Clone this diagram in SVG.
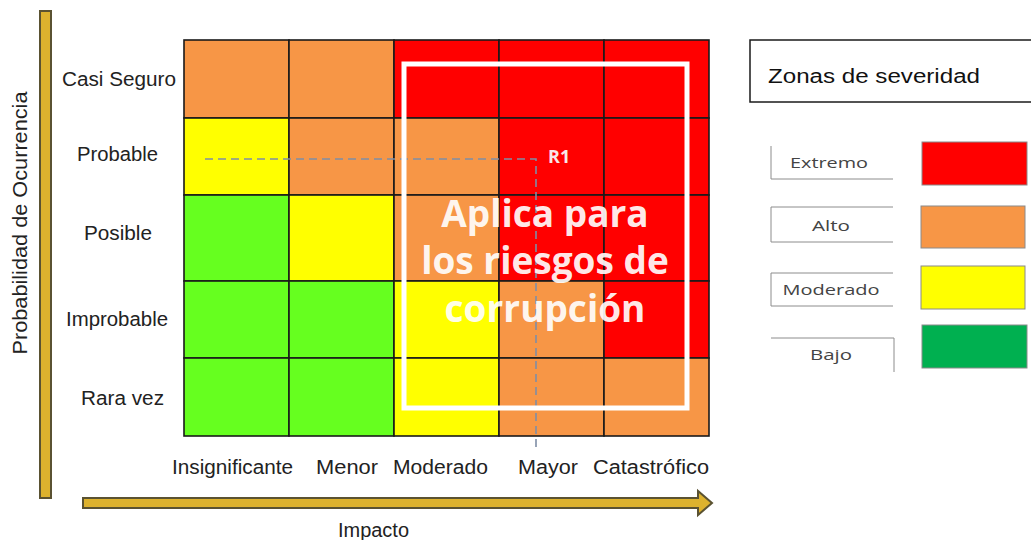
<svg xmlns="http://www.w3.org/2000/svg" width="1031" height="540" viewBox="0 0 1031 540">
  <style>
    .cell { stroke: #1a1a1a; stroke-width: 1.6; }
    .o { fill: #F79646; }
    .r { fill: #FF0000; }
    .y { fill: #FFFF00; }
    .g { fill: #66FF1F; }
    .lbl { font-family: "Liberation Sans", Arial, sans-serif; font-size: 19.5px; fill: #222; text-anchor: middle; }
    .axis { fill: #DDB22E; stroke: #5A5232; stroke-width: 2; }
    .big { font-family: "Open Sans", "Liberation Sans", sans-serif; font-weight: bold; font-size: 37px; fill: #ffffff; fill-opacity: 0.93; text-anchor: middle; }
    .leg { font-family: "Open Sans", "Liberation Sans", sans-serif; font-size: 15px; fill: #444; text-anchor: middle; }
    .legline { stroke: #8c8c8c; stroke-width: 1; fill: none; }
    .sw { stroke: #8a8a8a; stroke-width: 1; }
  </style>

  <rect width="1031" height="540" fill="#ffffff"/>

  <g id="matrix">
    <rect class="cell o" x="184" y="40" width="105" height="78"/>
    <rect class="cell o" x="289" y="40" width="105" height="78"/>
    <rect class="cell r" x="394" y="40" width="105" height="78"/>
    <rect class="cell r" x="499" y="40" width="105" height="78"/>
    <rect class="cell r" x="604" y="40" width="105" height="78"/>
    <rect class="cell y" x="184" y="118" width="105" height="77"/>
    <rect class="cell o" x="289" y="118" width="105" height="77"/>
    <rect class="cell o" x="394" y="118" width="105" height="77"/>
    <rect class="cell r" x="499" y="118" width="105" height="77"/>
    <rect class="cell r" x="604" y="118" width="105" height="77"/>
    <rect class="cell g" x="184" y="195" width="105" height="86"/>
    <rect class="cell y" x="289" y="195" width="105" height="86"/>
    <rect class="cell o" x="394" y="195" width="105" height="86"/>
    <rect class="cell r" x="499" y="195" width="105" height="86"/>
    <rect class="cell r" x="604" y="195" width="105" height="86"/>
    <rect class="cell g" x="184" y="281" width="105" height="77"/>
    <rect class="cell g" x="289" y="281" width="105" height="77"/>
    <rect class="cell y" x="394" y="281" width="105" height="77"/>
    <rect class="cell o" x="499" y="281" width="105" height="77"/>
    <rect class="cell r" x="604" y="281" width="105" height="77"/>
    <rect class="cell g" x="184" y="358" width="105" height="78"/>
    <rect class="cell g" x="289" y="358" width="105" height="78"/>
    <rect class="cell y" x="394" y="358" width="105" height="78"/>
    <rect class="cell o" x="499" y="358" width="105" height="78"/>
    <rect class="cell o" x="604" y="358" width="105" height="78"/>
  </g>

  <g id="connectors">
    <path d="M205,159 H536 V448" fill="none" stroke="#7f8ea6" stroke-width="1.6" stroke-dasharray="8 5"/>
  </g>

  <g id="corruption-zone">
    <rect x="404" y="64" width="283" height="344" fill="none" stroke="#ffffff" stroke-width="5"/>
    <text class="big" x="545" y="227">Aplica para</text>
    <text class="big" x="545" y="274">los riesgos de</text>
    <text class="big" x="545" y="322">corrupción</text>
  </g>

  <g id="r1">
    <text x="548" y="163" font-family="Open Sans, Liberation Sans, sans-serif" font-weight="bold" font-size="18" fill="#f8e8e8">R1</text>
  </g>

  <g id="y-labels">
    <text class="lbl" x="119" y="86" textLength="114" lengthAdjust="spacingAndGlyphs">Casi Seguro</text>
    <text class="lbl" x="117.5" y="161" textLength="81" lengthAdjust="spacingAndGlyphs">Probable</text>
    <text class="lbl" x="118" y="240" textLength="68" lengthAdjust="spacingAndGlyphs">Posible</text>
    <text class="lbl" x="117" y="326" textLength="102" lengthAdjust="spacingAndGlyphs">Improbable</text>
    <text class="lbl" x="122.5" y="405" textLength="83" lengthAdjust="spacingAndGlyphs">Rara vez</text>
  </g>

  <g id="x-labels">
    <text class="lbl" x="232.5" y="474" textLength="121" lengthAdjust="spacingAndGlyphs">Insignificante</text>
    <text class="lbl" x="347" y="474" textLength="62" lengthAdjust="spacingAndGlyphs">Menor</text>
    <text class="lbl" x="440.5" y="474" textLength="95" lengthAdjust="spacingAndGlyphs">Moderado</text>
    <text class="lbl" x="548" y="474" textLength="60" lengthAdjust="spacingAndGlyphs">Mayor</text>
    <text class="lbl" x="651" y="474" textLength="116" lengthAdjust="spacingAndGlyphs">Catastrófico</text>
  </g>

  <g id="y-axis">
    <rect class="axis" x="40" y="11" width="11" height="487"/>
    <text class="lbl" transform="translate(27,223) rotate(-90)" font-size="20" textLength="263" lengthAdjust="spacingAndGlyphs">Probabilidad de Ocurrencia</text>
  </g>

  <g id="x-axis">
    <path class="axis" d="M83,498 H698 V491 L712,503 L698,515 V508 H83 Z"/>
    <text class="lbl" x="373.5" y="537" font-size="18" textLength="71" lengthAdjust="spacingAndGlyphs">Impacto</text>
  </g>

  <g id="legend">
    <g id="legend-title">
      <rect x="750" y="40" width="290" height="62" fill="#ffffff" stroke="#1a1a1a" stroke-width="1.5"/>
      <text x="768" y="83" font-family="Liberation Sans, Arial, sans-serif" font-size="20" fill="#111" textLength="212" lengthAdjust="spacingAndGlyphs">Zonas de severidad</text>
    </g>
    <g id="legend-extremo">
      <path class="legline" d="M771,146 V179 H893"/>
      <text class="leg" x="829" y="168" textLength="78" lengthAdjust="spacingAndGlyphs">Extremo</text>
      <rect class="sw" x="922" y="142" width="105" height="43" fill="#FF0000"/>
    </g>
    <g id="legend-alto">
      <path class="legline" d="M893,207 H771 V242 H893"/>
      <text class="leg" x="831" y="231" textLength="38" lengthAdjust="spacingAndGlyphs">Alto</text>
      <rect class="sw" x="921" y="206" width="104" height="42" fill="#F79646"/>
    </g>
    <g id="legend-moderado">
      <path class="legline" d="M893,273 H771 V306 H893"/>
      <text class="leg" x="831" y="295" textLength="97" lengthAdjust="spacingAndGlyphs">Moderado</text>
      <rect class="sw" x="921" y="266" width="104" height="43" fill="#FFFF00"/>
    </g>
    <g id="legend-bajo">
      <path class="legline" d="M771,338 H894 V372"/>
      <text class="leg" x="831" y="360" textLength="42" lengthAdjust="spacingAndGlyphs">Bajo</text>
      <rect class="sw" x="922" y="325" width="105" height="43" fill="#00B050"/>
    </g>
  </g>
</svg>
